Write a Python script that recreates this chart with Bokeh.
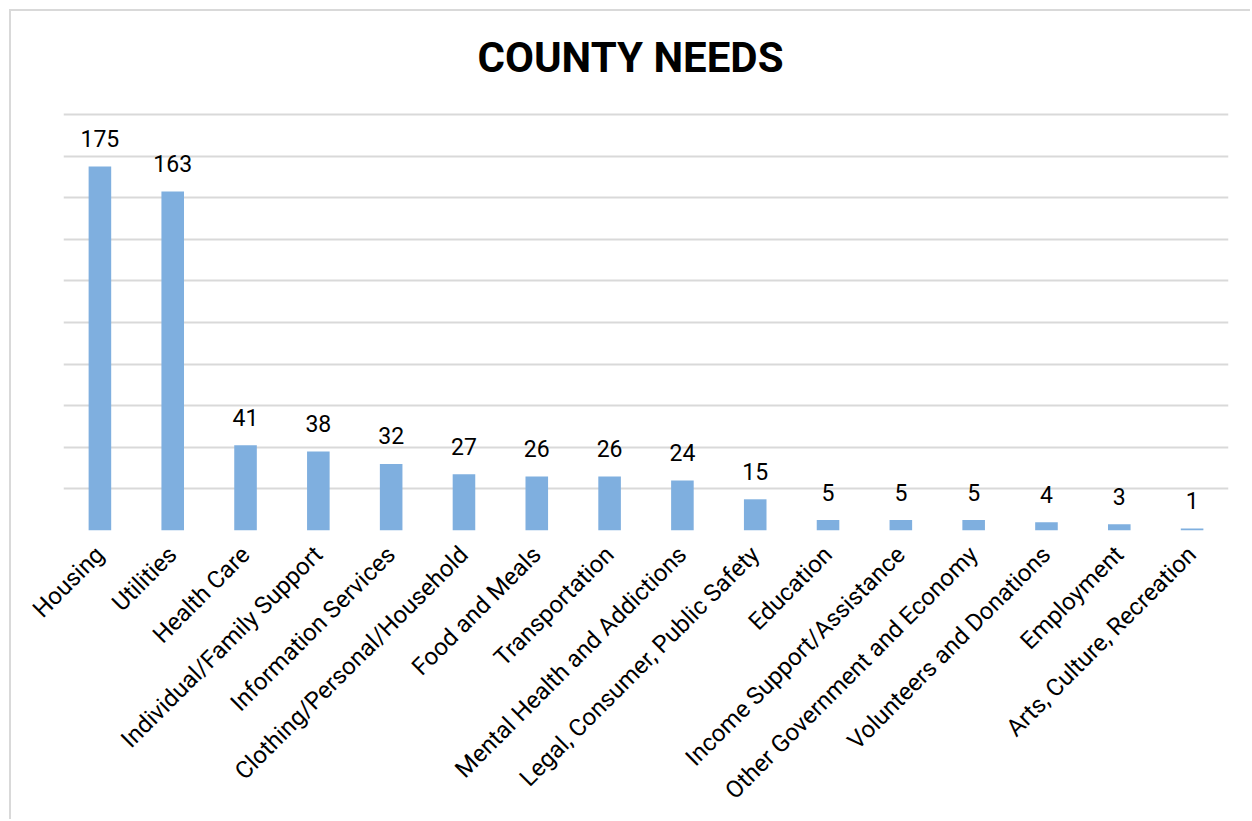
from bokeh.plotting import figure
from bokeh.models import ColumnDataSource, FactorRange, Range1d, FixedTicker, Label
from bokeh.embed import file_html
from bokeh.resources import INLINE
from math import pi

title_text = "COUNTY NEEDS"
categories = ["Housing", "Utilities", "Health Care", "Individual/Family Support",
              "Information Services", "Clothing/Personal/Household", "Food and Meals",
              "Transportation", "Mental Health and Addictions",
              "Legal, Consumer, Public Safety", "Education", "Income Support/Assistance",
              "Other Government and Economy", "Volunteers and Donations", "Employment",
              "Arts, Culture, Recreation"]
counts = [175, 163, 41, 38, 32, 27, 26, 26, 24, 15, 5, 5, 5, 4, 3, 1]
grid_ticks = list(range(0, 201, 20))

# plot-area height 519 px; 2.08 px per unit keeps the 0..200 grid in place,
# the space above 200 holds the title
y_top = 519 / 2.08

src = ColumnDataSource(dict(cat=categories, val=counts, lab=[str(v) for v in counts]))

p = figure(width=1241, height=810, x_range=FactorRange(*categories, range_padding=0),
           y_range=Range1d(0, y_top), output_backend="svg", toolbar_location=None,
           min_border_left=52, min_border_right=24, min_border_bottom=291,
           min_border_top=0, margin=(9, 0, 0, 9),
           styles={"border-left": "2px solid #d9d9d9", "border-top": "2px solid #d9d9d9"})
p.outline_line_color = None

p.add_layout(Label(x=414, y=473, x_units="screen", y_units="screen", text=title_text,
                   text_font="Roboto", text_font_size="42px", text_font_style="bold",
                   text_color="#000000", text_align="left", text_baseline="alphabetic"))

p.vbar(x="cat", top="val", width=0.31, source=src, color="#7FAFDF", line_color=None)
p.text(x="cat", y="val", text="lab", source=src, text_align="center",
       text_baseline="alphabetic", y_offset=-28, text_font_size="23px",
       text_color="#000000", text_font={"value": "Roboto"})

p.yaxis.visible = False
p.yaxis.ticker = FixedTicker(ticks=grid_ticks)
p.ygrid.ticker = FixedTicker(ticks=grid_ticks)
p.ygrid.grid_line_color = "#d9d9d9"
p.ygrid.grid_line_width = 2
p.xgrid.visible = False

ax = p.xaxis[0]
ax.axis_line_color = None
ax.major_tick_line_color = None
ax.minor_tick_line_color = None
ax.major_tick_out = 0
ax.major_label_standoff = 20
ax.major_label_orientation = pi / 4
ax.major_label_text_font = "Roboto"
ax.major_label_text_font_size = "24px"
ax.major_label_text_color = "#000000"

open("out.html", "w").write(file_html(p, INLINE))
